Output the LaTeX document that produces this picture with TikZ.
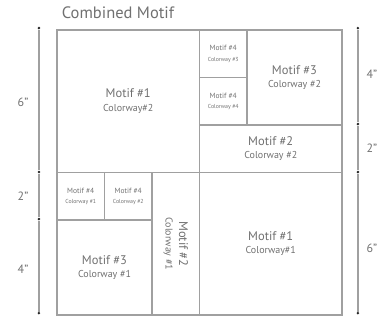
\documentclass[tikz,border=0pt]{standalone}
\usepackage{fontspec}
\setmainfont{PT Sans}
\definecolor{linegray}{HTML}{A0A0A0}
\definecolor{textgray}{HTML}{707070}
\newcommand\bigtxt[2]{{\fontsize{12.5}{15}\selectfont #1}\\[1.5pt]{\fontsize{10}{12}\selectfont #2}}
\newcommand\smalltxt[2]{{\fontsize{7.5}{9}\selectfont #1}\\[-1.5pt]{\fontsize{5.8}{7}\selectfont #2}}
\tikzset{
  tile/.style={draw=linegray, line width=1.1pt},
  lbl/.style={align=center, text=textgray, inner sep=0pt},
  dimline/.style={draw=linegray, line width=1.6pt},
  dimdot/.style={circle, fill=black!85, inner sep=0pt, minimum size=2.8pt},
  dimlbl/.style={text=textgray, font=\fontsize{12}{14}\selectfont}
}
\begin{document}
\begin{tikzpicture}[x=23.75pt, y=-23.75pt]
\useasboundingbox (-2.4,-1.263) rectangle (13.726,12.21);
%%% title
\node[text=textgray, font=\fontsize{16.5}{18}\selectfont] (title) at (2.57,-0.72) {Combined Motif};
%%% the tiles of the top half
\draw[tile] (0,0) rectangle (6,6) node[midway, lbl] (m1c2) {\bigtxt{Motif \#1}{Colorway\#2}};
\draw[tile] (6,0) rectangle (8,2) node[midway, lbl] (m4c3) {\smalltxt{Motif \#4}{Colorway \#3}};
\draw[tile] (6,2) rectangle (8,4) node[midway, lbl] (m4c4) {\smalltxt{Motif \#4}{Colorway \#4}};
\draw[tile] (8,0) rectangle (12,4) node[midway, lbl] (m3c2) {\bigtxt{Motif \#3}{Colorway \#2}};
\draw[tile] (6,4) rectangle (12,6) node[midway, lbl] (m2c2) {\bigtxt{Motif \#2}{Colorway \#2}};
%%% the tiles of the bottom half
\draw[tile] (0,6) rectangle (2,8) node[midway, lbl] (m4c1) {\smalltxt{Motif \#4}{Colorway \#1}};
\draw[tile] (2,6) rectangle (4,8) node[midway, lbl] (m4c2) {\smalltxt{Motif \#4}{Colorway \#2}};
\draw[tile] (0,8) rectangle (4,12) node[midway, lbl] (m3c1) {\bigtxt{Motif \#3}{Colorway \#1}};
\draw[tile] (4,6) rectangle (6,12) node[midway, lbl, rotate=-90] (m2c1) {\bigtxt{Motif \#2}{Colorway \#1}};
\draw[tile] (6,6) rectangle (12,12) node[midway, lbl] (m1c1) {\bigtxt{Motif \#1}{Colorway\#1}};
%%% left measure
\node[dimdot] (l0) at (-0.76,-0.08) {};
\node[dimdot] (l6) at (-0.76,5.98) {};
\node[dimdot] (l8) at (-0.76,7.96) {};
\node[dimdot] (l12) at (-0.76,11.92) {};
\draw[dimline] (l0) -- (l6) -- (l8) -- (l12);
\node[dimlbl] (l6lbl) at (-1.43,3.03) {6"};
\node[dimlbl] (l2lbl) at (-1.43,6.99) {2"};
\node[dimlbl] (l4lbl) at (-1.43,10.06) {4"};
%%% right measure
\node[dimdot] (r0) at (12.67,-0.08) {};
\node[dimdot] (r4) at (12.67,3.96) {};
\node[dimdot] (r6) at (12.67,5.98) {};
\node[dimdot] (r12) at (12.67,11.92) {};
\draw[dimline] (r0) -- (r4) -- (r6) -- (r12);
\node[dimlbl] (r4lbl) at (13.26,1.85) {4"};
\node[dimlbl] (r2lbl) at (13.26,4.97) {2"};
\node[dimlbl] (r6lbl) at (13.26,9.2) {6"};
\end{tikzpicture}
\end{document}
